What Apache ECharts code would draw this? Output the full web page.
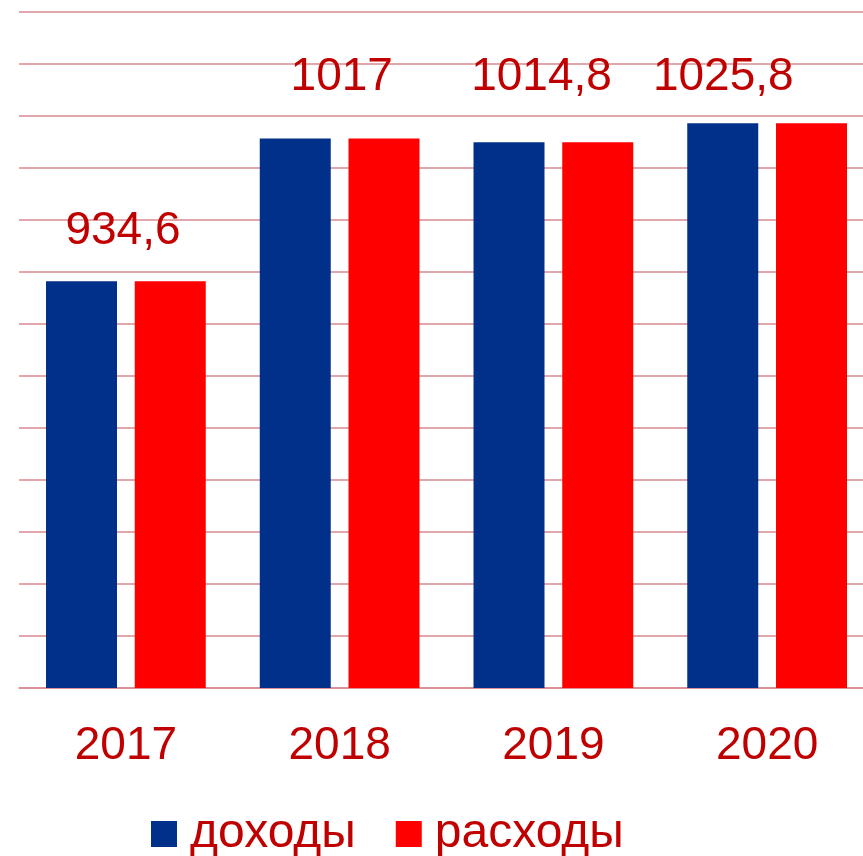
<!DOCTYPE html>
<html><head><meta charset="utf-8">
<script src="https://cdn.jsdelivr.net/npm/echarts@6/dist/echarts.min.js"></script>
<style>html,body{margin:0;padding:0;background:#fff;overflow:hidden;width:863px;height:856px}#c{width:874px;height:856px}</style>
</head><body><div id="c"></div>
<script>
const categories = ['2017', '2018', '2019', '2020'];
const incomeValues = [934.6, 1017, 1014.8, 1025.8];
const expenseValues = [934.6, 1017, 1014.8, 1025.8];
const seriesNames = ['доходы', 'расходы'];

// label placement tweaks (style, not data)
const labelShiftX = [41.5, 46.5, 32.5, 0.5];
const labelShiftY = [-27, -38, -42, -23];

const FONT = '"Liberation Sans", Arial, sans-serif';
const TXT = '#C00000';
const GRID_C = '#D98A8F';

const chart = echarts.init(document.getElementById('c'), null, {renderer: 'canvas'});
chart.setOption({
  animation: false,
  grid: {left: 19, top: 12, right: 0, bottom: 168, containLabel: false},
  xAxis: {
    type: 'category', data: categories,
    axisLine: {show: true, lineStyle: {color: GRID_C, width: 1.5}},
    axisTick: {show: false},
    axisLabel: {color: TXT, fontSize: 46, fontFamily: FONT, margin: 35, lineHeight: 46}
  },
  yAxis: {
    type: 'value', min: 700, max: 1090, interval: 30,
    axisLabel: {show: false}, axisLine: {show: false}, axisTick: {show: false},
    splitLine: {show: true, lineStyle: {color: GRID_C, width: 1.5}}
  },
  legend: {
    left: 151, top: 808, padding: 0, itemWidth: 26, itemHeight: 26, itemGap: 40, icon: 'rect',
    textStyle: {color: TXT, fontSize: 48, fontFamily: FONT, lineHeight: 52, padding: [0, 0, 0, 8]},
    data: seriesNames
  },
  series: [
    {
      name: seriesNames[0], type: 'bar', barWidth: 71, barGap: '25%',
      itemStyle: {color: '#00308A'},
      data: incomeValues.map((v, i) => ({
        value: v,
        label: {
          show: true, position: 'top', distance: 0,
          offset: [labelShiftX[i], labelShiftY[i]],
          formatter: p => String(p.value).replace('.', ','),
          color: TXT, fontSize: 46, fontFamily: FONT, lineHeight: 46
        }
      }))
    },
    {
      name: seriesNames[1], type: 'bar', barWidth: 71,
      itemStyle: {color: '#FF0000'},
      data: expenseValues
    }
  ]
});
</script></body></html>
